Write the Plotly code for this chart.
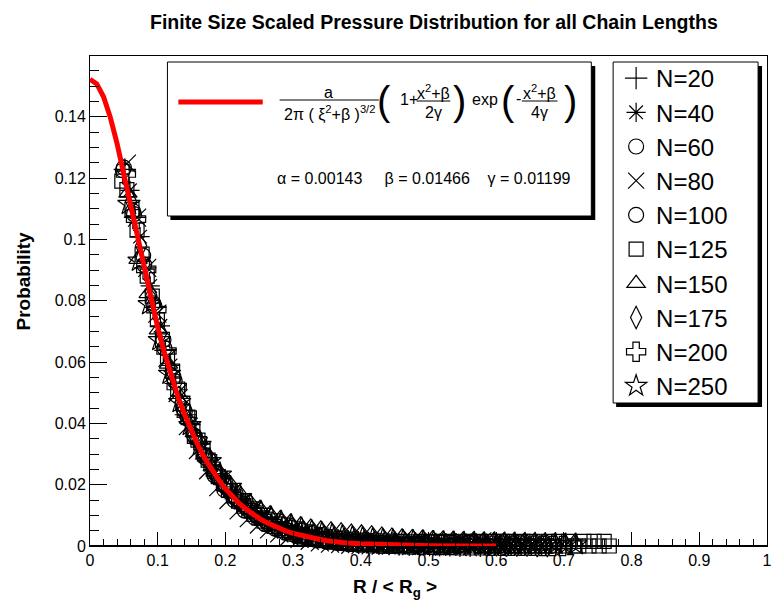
import numpy as np
import plotly.graph_objects as go

# ---------------- data ----------------
LABELS = ["N=20", "N=40", "N=60", "N=80", "N=100",
          "N=125", "N=150", "N=175", "N=200", "N=250"]

# histogram binning (scaled R / <Rg>): first bin centre and bin width per chain length
BIN_START = [0.0515, 0.0590, 0.0485, 0.0545, 0.0500, 0.0470, 0.0560, 0.0605, 0.0530, 0.0575]
BIN_WIDTH = [0.015, 0.015, 0.015, 0.015, 0.015, 0.0075, 0.015, 0.015, 0.015, 0.015]

P_N20 = [0.1228, 0.1072, 0.0907, 0.0778, 0.0638, 0.0530, 0.0428, 0.0357, 0.0284, 0.0236,
         0.0183, 0.0156, 0.0126, 0.0106, 0.0089, 0.0071, 0.0059, 0.0046, 0.0038, 0.0030,
         0.0025, 0.0019, 0.0016, 0.0012, 0.0010, 0.0008, 0.0006, 0.0005, 0.0004, 0.0003,
         0.0003, 0.0002, 0.0002, 0.0001, 0.0001, 0.0001]
P_N40 = [0.1160, 0.1009, 0.0848, 0.0718, 0.0589, 0.0489, 0.0396, 0.0332, 0.0265, 0.0222,
         0.0174, 0.0143, 0.0113, 0.0093, 0.0072, 0.0059, 0.0045, 0.0038, 0.0028, 0.0023,
         0.0017, 0.0014, 0.0011, 0.0009, 0.0007, 0.0006, 0.0005, 0.0004, 0.0003, 0.0003,
         0.0002, 0.0002, 0.0001, 0.0001, 0.0001, 0.0001, 0.0000, 0.0000]
P_N60 = [0.1225, 0.1092, 0.0947, 0.0791, 0.0672, 0.0550, 0.0446, 0.0361, 0.0291, 0.0231,
         0.0183, 0.0148, 0.0115, 0.0092, 0.0071, 0.0056, 0.0043, 0.0034, 0.0026, 0.0020,
         0.0015, 0.0012, 0.0009, 0.0007, 0.0005, 0.0004, 0.0003, 0.0002, 0.0002, 0.0001,
         0.0001, 0.0001, 0.0001, 0.0000, 0.0012, 0.0000, 0.0000, 0.0000, 0.0000, 0.0000]
P_N80 = [0.1247, 0.1071, 0.0907, 0.0758, 0.0614, 0.0499, 0.0391, 0.0313, 0.0247, 0.0192,
         0.0150, 0.0116, 0.0091, 0.0070, 0.0054, 0.0041, 0.0031, 0.0023, 0.0017, 0.0012,
         0.0008, 0.0006, 0.0004, 0.0003, 0.0002, 0.0001, 0.0001, 0.0015, 0.0000, 0.0000,
         0.0012, 0.0000, 0.0000, 0.0000, 0.0000, 0.0015, 0.0000, 0.0000, 0.0000, 0.0000, 0.0000]
P_N100 = [0.1234, 0.1082, 0.0917, 0.0783, 0.0645, 0.0538, 0.0439, 0.0356, 0.0296, 0.0238,
          0.0195, 0.0156, 0.0127, 0.0101, 0.0081, 0.0064, 0.0051, 0.0041, 0.0032, 0.0025,
          0.0019, 0.0015, 0.0012, 0.0009, 0.0007, 0.0006, 0.0004, 0.0003, 0.0003, 0.0002,
          0.0002, 0.0001, 0.0001, 0.0001, 0.0010, 0.0001, 0.0000, 0.0001, 0.0000, 0.0012,
          0.0000, 0.0000, 0.0000]
P_N125 = [0.1190, 0.1162, 0.1098, 0.1030, 0.0952, 0.0880, 0.0815, 0.0738, 0.0674, 0.0618,
          0.0570, 0.0512, 0.0464, 0.0420, 0.0383, 0.0345, 0.0312, 0.0280, 0.0251, 0.0226,
          0.0203, 0.0181, 0.0163, 0.0146, 0.0130, 0.0116, 0.0103, 0.0092, 0.0081, 0.0072,
          0.0064, 0.0057, 0.0050, 0.0044, 0.0039, 0.0034, 0.0030, 0.0027, 0.0023, 0.0021,
          0.0018, 0.0016, 0.0014, 0.0012, 0.0011, 0.0009, 0.0008, 0.0007, 0.0006, 0.0005,
          0.0012, 0.0004, 0.0000, 0.0010, 0.0003, 0.0015, 0.0002, 0.0000, 0.0008, 0.0015,
          0.0000, 0.0004, 0.0015, 0.0000, 0.0000, 0.0015, 0.0006, 0.0000, 0.0015, 0.0000,
          0.0015, 0.0000, 0.0000, 0.0015, 0.0000, 0.0015, 0.0015, 0.0000, 0.0000, 0.0015,
          0.0000, 0.0015, 0.0000, 0.0000, 0.0015, 0.0000, 0.0015, 0.0000, 0.0015, 0.0000,
          0.0000, 0.0015, 0.0000, 0.0015, 0.0000, 0.0015, 0.0000]
P_N150 = [0.1151, 0.0935, 0.0823, 0.0705, 0.0593, 0.0494, 0.0413, 0.0346, 0.0292, 0.0242,
          0.0206, 0.0173, 0.0145, 0.0123, 0.0105, 0.0090, 0.0078, 0.0069, 0.0062, 0.0056,
          0.0053, 0.0050, 0.0046, 0.0043, 0.0040, 0.0036, 0.0033, 0.0030, 0.0028, 0.0026,
          0.0024, 0.0022, 0.0021, 0.0020, 0.0019, 0.0018, 0.0017, 0.0016, 0.0016, 0.0015,
          0.0015, 0.0014, 0.0014, 0.0013, 0.0013]
P_N175 = [0.1124, 0.0979, 0.0818, 0.0695, 0.0567, 0.0459, 0.0372, 0.0310, 0.0249, 0.0205,
          0.0165, 0.0136, 0.0112, 0.0092, 0.0076, 0.0063, 0.0052, 0.0044, 0.0036, 0.0030,
          0.0025, 0.0021, 0.0018, 0.0015, 0.0013, 0.0011, 0.0010, 0.0009, 0.0008, 0.0007,
          0.0006, 0.0005, 0.0005, 0.0004, 0.0004, 0.0003, 0.0003, 0.0002, 0.0002, 0.0002,
          0.0001, 0.0001]
P_N200 = [0.1213, 0.1066, 0.0902, 0.0771, 0.0636, 0.0520, 0.0430, 0.0345, 0.0288, 0.0231,
          0.0189, 0.0152, 0.0123, 0.0100, 0.0079, 0.0064, 0.0052, 0.0042, 0.0033, 0.0026,
          0.0021, 0.0017, 0.0014, 0.0011, 0.0009, 0.0008, 0.0007, 0.0006, 0.0005, 0.0004,
          0.0004, 0.0003, 0.0003, 0.0002, 0.0002, 0.0002, 0.0001, 0.0001, 0.0001, 0.0001,
          0.0001, 0.0000, 0.0000, 0.0000]
P_N250 = [0.1115, 0.0930, 0.0788, 0.0671, 0.0561, 0.0469, 0.0394, 0.0329, 0.0276, 0.0232,
          0.0192, 0.0159, 0.0132, 0.0111, 0.0093, 0.0079, 0.0067, 0.0057, 0.0048, 0.0041,
          0.0036, 0.0031, 0.0028, 0.0025, 0.0022, 0.0020, 0.0018, 0.0016, 0.0015, 0.0014,
          0.0013, 0.0012, 0.0011, 0.0010, 0.0010, 0.0009, 0.0009, 0.0008, 0.0008, 0.0007,
          0.0007, 0.0006, 0.0006, 0.0005, 0.0005]

SERIES = [P_N20, P_N40, P_N60, P_N80, P_N100, P_N125, P_N150, P_N175, P_N200, P_N250]

# fitted curve
CURVE_X = [0.00, 0.01, 0.02, 0.03, 0.04, 0.05, 0.06, 0.07, 0.08, 0.09, 0.10, 0.11, 0.12,
           0.13, 0.14, 0.15, 0.16, 0.17, 0.18, 0.19, 0.20, 0.21, 0.22, 0.23, 0.24, 0.25,
           0.26, 0.27, 0.28, 0.29, 0.30, 0.31, 0.32, 0.33, 0.34, 0.35, 0.36, 0.38, 0.40,
           0.45, 0.50, 0.55, 0.60]
CURVE_Y = [0.1522, 0.1507, 0.1465, 0.1398, 0.1312, 0.1214, 0.1110, 0.1005, 0.0902, 0.0804,
           0.0713, 0.0630, 0.0554, 0.0487, 0.0427, 0.0373, 0.0326, 0.0284, 0.0248, 0.0216,
           0.0187, 0.0162, 0.0140, 0.0121, 0.0104, 0.0090, 0.0077, 0.0066, 0.0056, 0.0048,
           0.0041, 0.0035, 0.0029, 0.0025, 0.0021, 0.0017, 0.0014, 0.0010, 0.0007, 0.0002,
           0.0001, 0.0000, 0.0000]

FIT_PARAMS = ("α = 0.00143\u00a0\u00a0\u00a0\u00a0\u00a0β = 0.01466"
              "\u00a0\u00a0\u00a0\u00a0γ = 0.01199")

# ---------------- styling ----------------
FONT = "Liberation Sans, Arial, Helvetica, sans-serif"
SYMBOLS = ["cross-thin-open", "asterisk-open", "circle-open", "x-thin-open", "circle-open",
           "square-open", "triangle-up-open", "diamond-tall-open", "cross-open", "star-open"]
SIZES = [16, 16, 15, 18, 15, 14, 16, 16, 16, 17]

# the page shows the figure 8 px in from the top-left corner
OFF = 8
W, H = 781 - OFF, 604 - OFF
# plot-area frame in picture pixels
L, R, T, B = 90, 772, 56, 546


def px(x):
    return (x - L) / (R - L)


def py(y):
    return (B - y) / (B - T)


fig = go.Figure()

for lab, ys, x0, dx, sym, sz in zip(LABELS, SERIES, BIN_START, BIN_WIDTH, SYMBOLS, SIZES):
    xs = x0 + dx * np.arange(len(ys))
    fig.add_trace(go.Scatter(
        x=xs, y=ys, mode="markers", name=lab, showlegend=True, cliponaxis=False,
        marker=dict(symbol=sym, size=sz, color="black", line=dict(width=1.2, color="black")),
        hoverinfo="skip"))

fig.add_trace(go.Scatter(
    x=CURVE_X, y=CURVE_Y, mode="lines", showlegend=False, cliponaxis=True,
    line=dict(color="#ff0000", width=5), hoverinfo="skip"))

shapes = []
# formula box with shadow
shapes.append(dict(type="rect", xref="paper", yref="paper", x0=px(171), x1=px(599),
                   y0=py(220), y1=py(66), fillcolor="black", line=dict(width=0), layer="above"))
shapes.append(dict(type="rect", xref="paper", yref="paper", x0=px(168), x1=px(595),
                   y0=py(216), y1=py(62), fillcolor="white", line=dict(width=1, color="black"),
                   layer="above"))
# legend box with shadow
shapes.append(dict(type="rect", xref="paper", yref="paper", x0=px(620), x1=px(767),
                   y0=py(407), y1=py(66), fillcolor="black", line=dict(width=0), layer="above"))
shapes.append(dict(type="rect", xref="paper", yref="paper", x0=px(617), x1=px(763),
                   y0=py(403), y1=py(62), fillcolor="white", line=dict(width=1, color="black"),
                   layer="above"))
# red sample line
shapes.append(dict(type="line", xref="paper", yref="paper", x0=px(179), x1=px(264),
                   y0=py(102), y1=py(102), line=dict(color="#ff0000", width=5), layer="above"))
# fraction bars
for a, b, yy in [(281, 381, 100), (419, 453, 101), (525, 561, 101)]:
    shapes.append(dict(type="line", xref="paper", yref="paper", x0=px(a), x1=px(b),
                       y0=py(yy), y1=py(yy), line=dict(color="black", width=1), layer="above"))
# heavier bottom axis line, as in the reference
shapes.append(dict(type="line", xref="paper", yref="paper", x0=0, x1=1, y0=0, y1=0,
                   line=dict(color="black", width=2), layer="below"))

ann = []


def txt(x, y, s, size, bold=False, xanchor="center", **kw):
    if bold:
        s = "<b>" + s + "</b>"
    ann.append(dict(x=px(x), y=py(y), xref="paper", yref="paper", text=s, showarrow=False,
                    xanchor=xanchor, yanchor="middle",
                    font=dict(family=FONT, size=size, color="black"), **kw))


# title and axis titles
txt(437, 22, "Finite Size Scaled Pressure Distribution for all Chain Lengths", 19.5, bold=True)
txt(23, 281, "Probability", 19, bold=True, textangle=-90)
txt(397, 588, "R / < R<sub>g</sub> >", 19, bold=True)

# formula
txt(330, 92, "a", 16)
txt(331, 114, "2π\u00a0(\u00a0ξ<sup>2</sup>+β\u00a0)<sup>3/2</sup>", 16)
txt(386, 101, "(", 40)
txt(411, 99, "1+", 16)
txt(436, 92, "x<sup>2</sup>+β", 16)
txt(436, 112, "2γ", 16)
txt(462, 101, ")", 40)
txt(488, 100, "exp", 16)
txt(511, 101, "(", 40)
txt(522, 98, "-", 16)
txt(543, 92, "x<sup>2</sup>+β", 16)
txt(543, 112, "4γ", 16)
txt(574, 101, ")", 40)
txt(426, 178, FIT_PARAMS, 16)

fig.update_layout(
    width=W, height=H,
    margin=dict(l=L - OFF, r=781 - R, t=T - OFF, b=604 - B),
    plot_bgcolor="white", paper_bgcolor="white",
    font=dict(family=FONT, color="black"),
    shapes=shapes, annotations=ann,
    legend=dict(x=px(620), y=1.0, xanchor="left", yanchor="top",
                bgcolor="rgba(0,0,0,0)", borderwidth=0,
                font=dict(family=FONT, size=24, color="black"), tracegroupgap=0),
    xaxis=dict(range=[0, 1], tick0=0, dtick=0.1, ticks="inside", ticklen=14, tickwidth=1,
               tickcolor="black", showline=True, linecolor="black", linewidth=1, mirror=True,
               showgrid=False, zeroline=False, tickfont=dict(size=16, family=FONT),
               minor=dict(dtick=0.02, ticks="inside", ticklen=7, tickwidth=1,
                          tickcolor="black", showgrid=False)),
    yaxis=dict(range=[0, 0.1598], tick0=0, dtick=0.02, ticks="inside", ticklen=17, tickwidth=1,
               tickcolor="black", showline=True, linecolor="black", linewidth=1, mirror=True,
               showgrid=False, zeroline=False, tickfont=dict(size=16, family=FONT),
               minor=dict(dtick=0.005, ticks="inside", ticklen=9, tickwidth=1,
                          tickcolor="black", showgrid=False)),
)

fig.write_html("out.html")
